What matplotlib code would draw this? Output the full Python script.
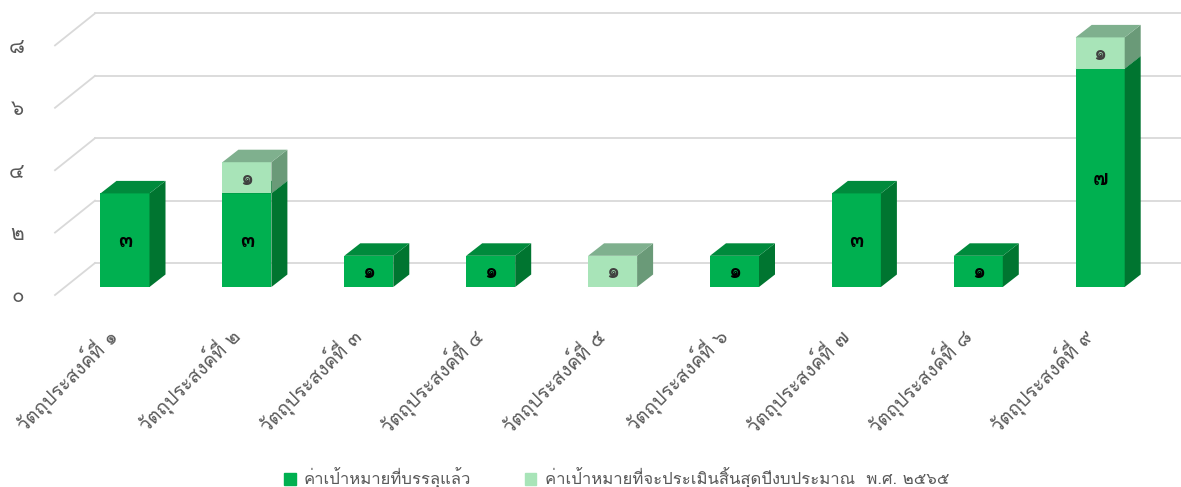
import matplotlib
matplotlib.use("Agg")
import matplotlib.pyplot as plt
from matplotlib import font_manager
from matplotlib.ft2font import FT2Font
from matplotlib.patches import Polygon, Rectangle
from matplotlib.transforms import ScaledTranslation

# data
categories = ["วัตถุประสงค์ที่ ๑", "วัตถุประสงค์ที่ ๒", "วัตถุประสงค์ที่ ๓",
              "วัตถุประสงค์ที่ ๔", "วัตถุประสงค์ที่ ๕", "วัตถุประสงค์ที่ ๖",
              "วัตถุประสงค์ที่ ๗", "วัตถุประสงค์ที่ ๘", "วัตถุประสงค์ที่ ๙"]
achieved = [3, 3, 1, 1, 0, 1, 3, 1, 7]
pending = [0, 1, 0, 0, 1, 0, 0, 0, 1]
series_names = ["ค่าเป้าหมายที่บรรลุแล้ว",
                "ค่าเป้าหมายที่จะประเมินสิ้นสุดปีงบประมาณ  พ.ศ. ๒๕๖๕"]
y_ticks = [0, 2, 4, 6, 8]
thai_digits = "๐๑๒๓๔๕๖๗๘๙"


def thai_num(n):
    return "".join(thai_digits[int(c)] for c in str(n))


# find a font that has Thai glyphs
thai_font = None
for f in font_manager.fontManager.ttflist:
    try:
        ft = FT2Font(f.fname)
        if ft.get_char_index(ord("ว")) and ft.get_char_index(ord("๑")):
            thai_font = f.name
            break
    except Exception:
        pass
families = ([thai_font] if thai_font else []) + ["DejaVu Sans"]
plt.rcParams["font.family"] = families

W, H = 1181, 487
fig = plt.figure(figsize=(W / 100, H / 100), dpi=100)

# pixel mapping: value 0 at y=287, 31.2 px per unit; bar 1 centre x=125, 121.9 px per bar
px_y = 31.2
px_x = 121.9
ax = fig.add_axes([55 / W, (H - 287) / H, 1 - 55 / W, 287 / H])
x_left = (55 - 125) / px_x
x_right = (W - 125) / px_x
ax.set_xlim(x_left, x_right)
ax.set_ylim(0, 287 / px_y)
for s in ax.spines.values():
    s.set_visible(False)

grid_c = "#d9d9d9"
back_dy = 24 / px_y
front_dy = -8 / px_y
back_x = (95 - 125) / px_x
for v in y_ticks:
    ax.plot([back_x, x_right], [v + back_dy] * 2, color=grid_c, lw=1.3, zorder=0, clip_on=False)
    ax.plot([x_left, back_x], [v + front_dy, v + back_dy], color=grid_c, lw=1.3, zorder=0, clip_on=False)

bar_w = 49 / px_x
dx = 16 / px_x
dy = 12.5 / px_y


def box(x, y0, h, front, side, top, z):
    x0 = x - bar_w / 2
    ax.add_patch(Rectangle((x0, y0), bar_w, h, facecolor=front, edgecolor="none", zorder=z))
    ax.add_patch(Polygon([(x0 + bar_w, y0), (x0 + bar_w + dx, y0 + dy),
                          (x0 + bar_w + dx, y0 + h + dy), (x0 + bar_w, y0 + h)],
                         facecolor=side, edgecolor="none", zorder=z))
    ax.add_patch(Polygon([(x0, y0 + h), (x0 + dx, y0 + h + dy),
                          (x0 + bar_w + dx, y0 + h + dy), (x0 + bar_w, y0 + h)],
                         facecolor=top, edgecolor="none", zorder=z))


for i in range(len(categories)):
    a, p = achieved[i], pending[i]
    if a > 0:
        box(i, 0, a, "#00b050", "#007530", "#008a3c", 2)
        ax.text(i, a / 2 - 0.05, thai_num(a), ha="center", va="center",
                fontsize=15, fontweight="bold", color="black", zorder=5)
    if p > 0:
        box(i, a, p, "#a8e4b8", "#6a9a78", "#7fb08e", 3)
        ax.text(i, a + p / 2 - 0.05, thai_num(p), ha="center", va="center",
                fontsize=15, fontweight="bold", color="#404040", zorder=5)

ax.set_yticks(y_ticks)
ax.set_yticklabels([thai_num(v) for v in y_ticks], fontsize=15, color="#595959")
ax.tick_params(axis="y", length=0, pad=22)
off = ScaledTranslation(0, -8 / 100, fig.dpi_scale_trans)
for lab in ax.get_yticklabels():
    lab.set_transform(lab.get_transform() + off)

ax.set_xticks(range(len(categories)))
ax.set_xticklabels(categories, rotation=45, ha="right", rotation_mode="anchor",
                   fontsize=14, color="#595959")
ax.tick_params(axis="x", length=0, pad=26)
xoff = ScaledTranslation(-20 / 100, 0, fig.dpi_scale_trans)
for lab in ax.get_xticklabels():
    lab.set_transform(lab.get_transform() + xoff)

handles = [Rectangle((0, 0), 1, 1, color="#00b050"), Rectangle((0, 0), 1, 1, color="#a8e4b8")]
leg = fig.legend(handles, series_names, loc="lower center", bbox_to_anchor=(0.522, -0.035),
                 ncol=2, frameon=False, fontsize=12, handlelength=0.7, handleheight=0.7,
                 handletextpad=0.5, columnspacing=3.2)
for t in leg.get_texts():
    t.set_color("#595959")

fig.savefig("out.png", dpi=100)
